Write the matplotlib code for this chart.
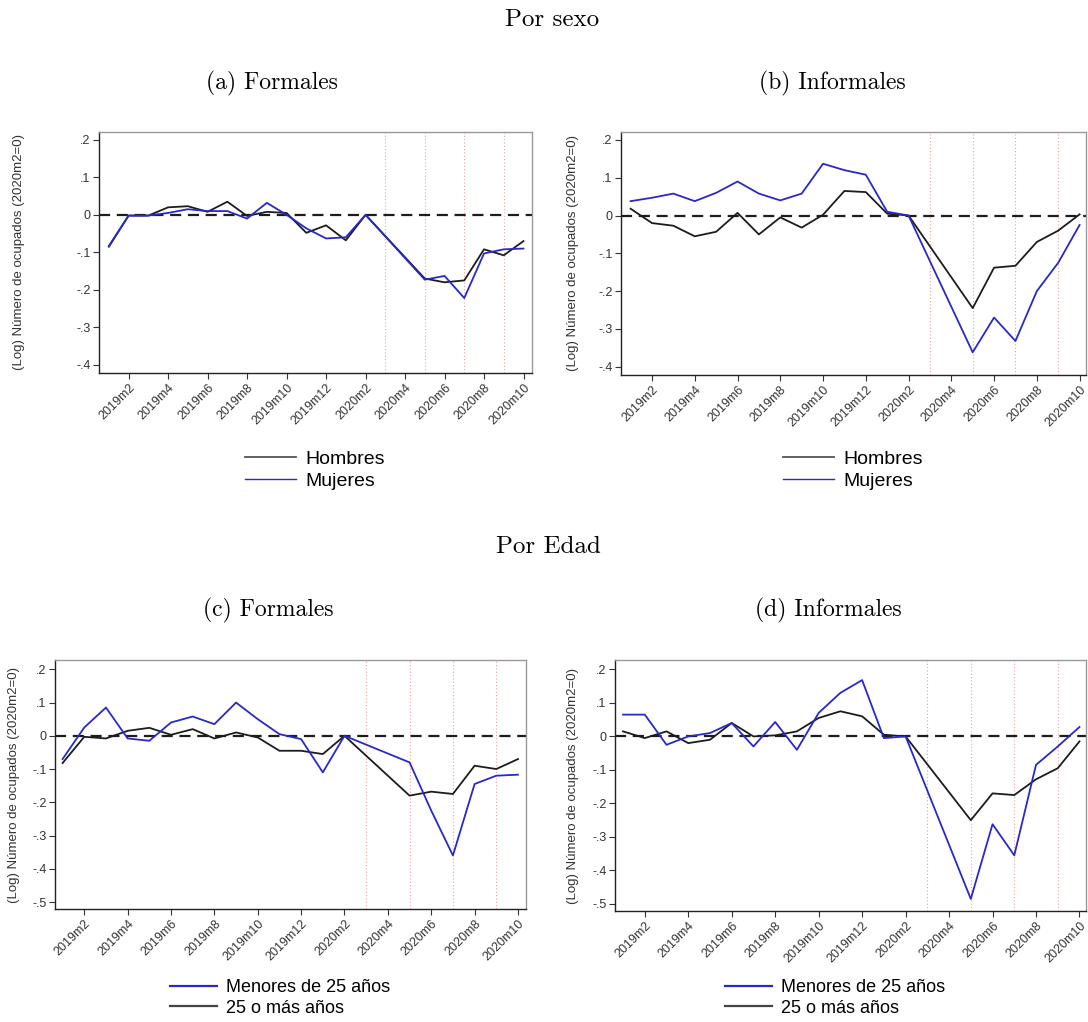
import matplotlib
matplotlib.use("Agg")
import matplotlib.pyplot as plt
from matplotlib.lines import Line2D

# months with data (2020m3 and 2020m4 are missing)
months = ["2019m1", "2019m2", "2019m3", "2019m4", "2019m5", "2019m6", "2019m7",
          "2019m8", "2019m9", "2019m10", "2019m11", "2019m12", "2020m1", "2020m2",
          "2020m5", "2020m6", "2020m7", "2020m8", "2020m9", "2020m10"]

# (a) Formales, por sexo
a_hombres = [-0.085, -0.002, -0.002, 0.020, 0.023, 0.008, 0.035, -0.003, 0.008, 0.005,
             -0.048, -0.028, -0.068, 0.0, -0.170, -0.180, -0.175, -0.092, -0.108, -0.070]
a_mujeres = [-0.083, -0.002, -0.002, 0.005, 0.015, 0.010, 0.010, -0.010, 0.032, 0.000,
             -0.036, -0.063, -0.060, 0.0, -0.173, -0.163, -0.222, -0.103, -0.092, -0.090]

# (b) Informales, por sexo
b_hombres = [0.018, -0.020, -0.027, -0.055, -0.043, 0.007, -0.050, -0.005, -0.032, 0.002,
             0.065, 0.062, 0.005, 0.0, -0.245, -0.138, -0.133, -0.070, -0.040, 0.003]
b_mujeres = [0.038, 0.047, 0.058, 0.038, 0.060, 0.090, 0.058, 0.040, 0.058, 0.137,
             0.120, 0.108, 0.010, 0.0, -0.362, -0.270, -0.332, -0.200, -0.125, -0.025]

# (c) Formales, por edad
c_menores = [-0.070, 0.025, 0.085, -0.008, -0.015, 0.040, 0.058, 0.035, 0.100, 0.050,
             0.005, -0.010, -0.110, 0.0, -0.080, -0.225, -0.360, -0.145, -0.120, -0.117]
c_mayores = [-0.082, -0.003, -0.008, 0.015, 0.024, 0.003, 0.020, -0.008, 0.010, -0.005,
             -0.045, -0.045, -0.055, 0.0, -0.180, -0.168, -0.175, -0.090, -0.100, -0.070]

# (d) Informales, por edad
d_menores = [0.065, 0.065, -0.025, 0.000, 0.010, 0.040, -0.030, 0.043, -0.040, 0.070,
             0.130, 0.168, -0.005, 0.0, -0.485, -0.262, -0.355, -0.085, -0.030, 0.028]
d_mayores = [0.015, -0.005, 0.015, -0.020, -0.010, 0.040, 0.000, 0.003, 0.015, 0.055,
             0.075, 0.060, 0.005, 0.0, -0.250, -0.170, -0.175, -0.128, -0.095, -0.015]

tick_months = ["2019m2", "2019m4", "2019m6", "2019m8", "2019m10", "2019m12",
               "2020m2", "2020m4", "2020m6", "2020m8", "2020m10"]
red_months = ["2020m3", "2020m5", "2020m7", "2020m9"]

BLACK = "#1c1c1c"
BLUE = "#2828cc"
W, H = 1088, 1022


def month_index(m):
    year, mon = m.split("m")
    return (int(year) - 2019) * 12 + int(mon) - 1


def fmt(v):
    if abs(v) < 1e-9:
        return "0"
    s = "%.1f" % v
    return s.replace("0.", ".")


def make_axes(fig, left, top, right, bottom):
    return fig.add_axes([left / W, 1 - bottom / H, (right - left) / W, (bottom - top) / H])


def draw_panel(ax, series, yticks, ylim, xlim):
    x = [month_index(m) for m in months]
    for vals, color in series:
        ax.plot(x, vals, color=color, lw=1.3, zorder=3)
    ax.axhline(0, color=BLACK, lw=1.6, ls=(0, (5, 3)), zorder=2)
    for m in red_months:
        ax.axvline(month_index(m), color="#eea0a0", lw=0.8, ls=(0, (1, 2)), zorder=1)
    ax.set_xlim(*xlim)
    ax.set_ylim(*ylim)
    ax.set_yticks(yticks)
    ax.set_yticklabels([fmt(v) for v in yticks], fontsize=9, color="#333333",
                       family="Liberation Sans")
    ax.set_xticks([month_index(m) for m in tick_months])
    ax.set_xticklabels(tick_months, rotation=45, ha="right", rotation_mode="anchor",
                       fontsize=9, color="#333333", family="Liberation Sans")
    ax.tick_params(length=4, width=0.8, color="#333333", pad=2)
    for side in ["left", "bottom"]:
        ax.spines[side].set_color("#222222")
        ax.spines[side].set_linewidth(1.0)
    for side in ["top", "right"]:
        ax.spines[side].set_color("#999999")
        ax.spines[side].set_linewidth(1.0)


fig = plt.figure(figsize=(W / 100, H / 100), dpi=100)

serif = "cmr10"
fig.text(552 / W, 1 - 20 / H, "Por sexo", ha="center", va="center", fontsize=18, family=serif)
fig.text(272 / W, 1 - 83 / H, "(a) Formales", ha="center", va="center", fontsize=17, family=serif)
fig.text(832 / W, 1 - 83 / H, "(b) Informales", ha="center", va="center", fontsize=17, family=serif)
fig.text(548 / W, 1 - 547 / H, "Por Edad", ha="center", va="center", fontsize=18, family=serif)
fig.text(268 / W, 1 - 610 / H, "(c) Formales", ha="center", va="center", fontsize=17, family=serif)
fig.text(828 / W, 1 - 610 / H, "(d) Informales", ha="center", va="center", fontsize=17, family=serif)

yt_top = [0.2, 0.1, 0.0, -0.1, -0.2, -0.3, -0.4]
yt_bot = [0.2, 0.1, 0.0, -0.1, -0.2, -0.3, -0.4, -0.5]

ax_a = make_axes(fig, 99, 132, 532, 373)
draw_panel(ax_a, [(a_hombres, BLACK), (a_mujeres, BLUE)], yt_top, (-0.422, 0.221), (-0.5, 21.43))
ax_b = make_axes(fig, 621, 132, 1086, 375)
draw_panel(ax_b, [(b_hombres, BLACK), (b_mujeres, BLUE)], yt_top, (-0.422, 0.221), (-0.45, 21.3))
ax_c = make_axes(fig, 55, 660, 526, 909)
draw_panel(ax_c, [(c_mayores, BLACK), (c_menores, BLUE)], yt_bot, (-0.521, 0.228), (-0.35, 21.37))
ax_d = make_axes(fig, 615, 660, 1086, 911)
draw_panel(ax_d, [(d_mayores, BLACK), (d_menores, BLUE)], yt_bot, (-0.521, 0.228), (-0.37, 21.3))

ylab = "(Log) Número de ocupados (2020m2=0)"
for xpx, ypx in [(19, 252), (573, 253), (14, 785), (573, 786)]:
    fig.text(xpx / W, 1 - ypx / H, ylab, rotation=90, ha="center", va="center",
             fontsize=9.5, color="#333333", family="Liberation Sans")

sexo_handles = [Line2D([], [], color="#555555", lw=1.3), Line2D([], [], color=BLUE, lw=1.0)]
sexo_labels = ["Hombres", "Mujeres"]
edad_handles = [Line2D([], [], color=BLUE, lw=1.6), Line2D([], [], color="#444444", lw=1.6)]
edad_labels = ["Menores de 25 años", "25 o más años"]

for ax, xpx, ypx, handles, labels, fs in [
        (ax_a, 245, 470, sexo_handles, sexo_labels, 14),
        (ax_b, 783, 470, sexo_handles, sexo_labels, 14),
        (ax_c, 170, 998, edad_handles, edad_labels, 13),
        (ax_d, 725, 998, edad_handles, edad_labels, 13)]:
    ax.legend(handles, labels, loc="center left", bbox_to_anchor=(xpx / W, 1 - ypx / H),
              bbox_transform=fig.transFigure, frameon=False, borderpad=0, borderaxespad=0,
              handlelength=2.6, handletextpad=0.5, labelspacing=0.2,
              prop={"family": "Liberation Sans", "size": fs})

fig.savefig("out.png", dpi=100, facecolor="white")
